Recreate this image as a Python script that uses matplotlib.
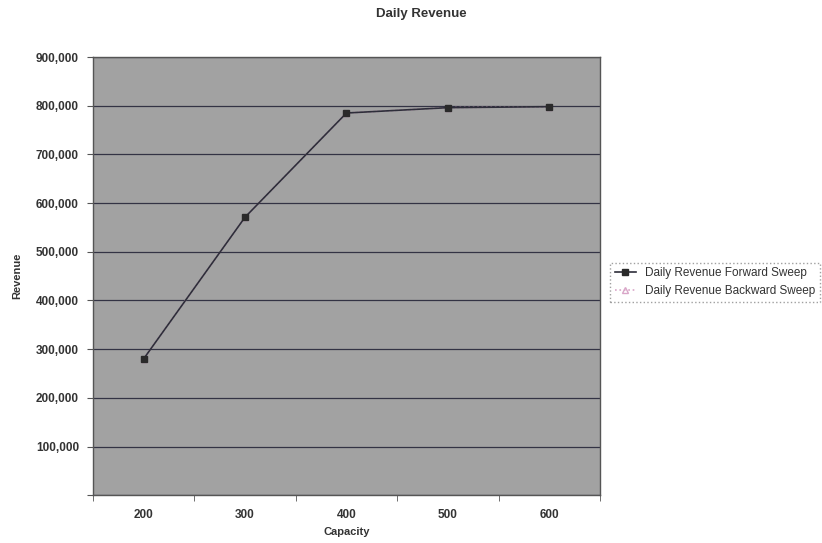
import matplotlib
matplotlib.use("Agg")
import matplotlib.pyplot as plt
from matplotlib.ticker import FuncFormatter, FixedLocator
import numpy as np

# ----------------------------
# Dati
# ----------------------------
capacity = ["200", "300", "400", "500", "600"]
revenue_forward = [280000, 571000, 785000, 796000, 798000]
revenue_backward = [280000, 571000, 785000, 796000, 798000]

plt.rcParams["font.family"] = ["Liberation Sans", "DejaVu Sans"]

fig = plt.figure(figsize=(8.22, 5.43), dpi=100)
ax = fig.add_axes([0.113, 0.088, 0.617, 0.807])

x = np.arange(len(capacity))

ax.set_facecolor("#a2a2a2")
ax.plot(x, revenue_backward, color="#d9a6c8", linestyle=":", linewidth=1.2,
        marker="^", markersize=4, markerfacecolor="none", markeredgecolor="#d9a6c8",
        label="Daily Revenue Backward Sweep", zorder=3)
ax.plot(x, revenue_forward, color="#2e2e3a", linewidth=1.2,
        marker="s", markersize=4.5, markerfacecolor="#2a2a2a", markeredgecolor="#2a2a2a",
        label="Daily Revenue Forward Sweep", zorder=4)

ax.set_xlim(-0.5, len(capacity) - 0.5)
ax.set_ylim(0, 900000)
ax.set_yticks(np.arange(0, 900001, 100000))
ax.yaxis.set_major_formatter(FuncFormatter(lambda v, p: "" if v == 0 else f"{int(v):,}"))
ax.grid(axis="y", color="#333344", linewidth=0.9)
ax.set_axisbelow(True)

ax.set_xticks(x)
ax.set_xticklabels(capacity)
ax.xaxis.set_minor_locator(FixedLocator(np.arange(-0.5, len(capacity), 1)))
ax.tick_params(axis="x", which="major", length=0, pad=10, labelsize=8.5)
ax.tick_params(axis="x", which="minor", length=4, color="#555555")
ax.tick_params(axis="y", length=4, color="#555555", labelsize=8.5, pad=6)
for lab in ax.get_xticklabels() + ax.get_yticklabels():
    lab.set_fontweight("bold")
    lab.set_color("#333333")

for s in ax.spines.values():
    s.set_color("#555555")
    s.set_linewidth(1.0)

ax.set_xlabel("Capacity", fontsize=8, fontweight="bold", color="#333333", labelpad=4)
ax.set_ylabel("Revenue", fontsize=8, fontweight="bold", color="#333333", labelpad=10)
fig.text(0.512, 0.975, "Daily Revenue", ha="center", va="center",
         fontsize=9.5, fontweight="bold", color="#333333")

handles, labels = ax.get_legend_handles_labels()
leg = fig.legend(handles[::-1], labels[::-1], loc="center left",
                 bbox_to_anchor=(0.735, 0.48), fontsize=8.5, frameon=True,
                 fancybox=False, borderpad=0.4, handlelength=1.8, labelspacing=0.5)
leg.get_frame().set_edgecolor("#888888")
leg.get_frame().set_linestyle(":")
for t in leg.get_texts():
    t.set_color("#333333")

fig.savefig("out.png", dpi=100)
